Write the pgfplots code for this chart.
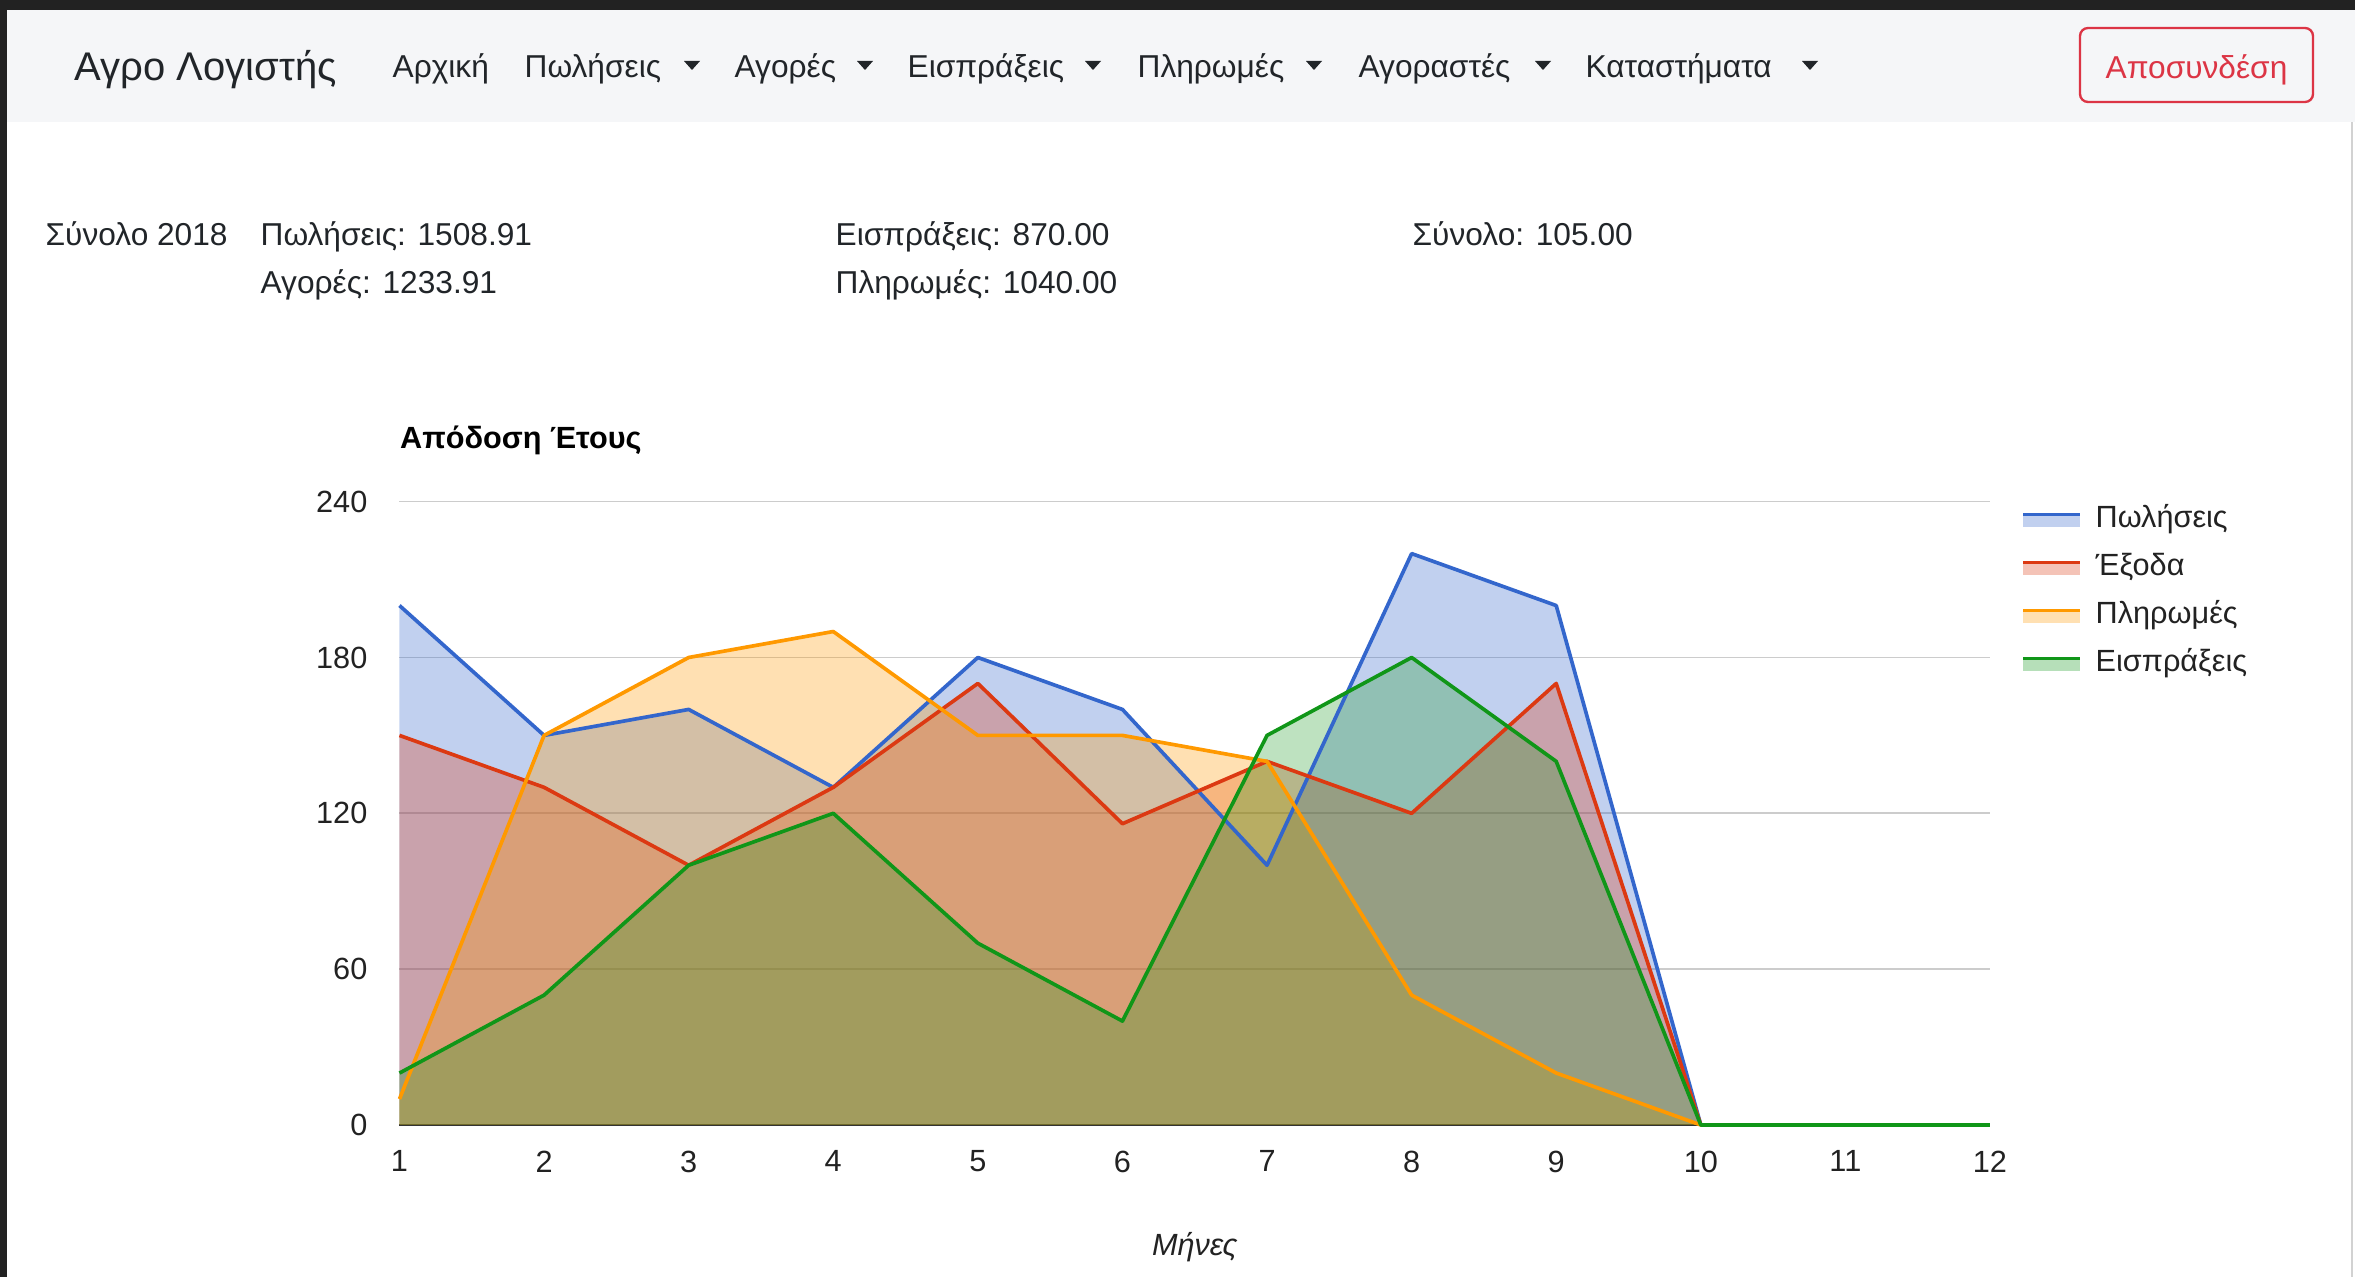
\documentclass[border=0pt]{standalone}
\usepackage{fontspec}
\setmainfont{Liberation Sans}
\usepackage{pgfplots}
\usepackage{pgfplotstable}
\pgfplotsset{compat=1.18}
\definecolor{gblue}{HTML}{3366CC}
\definecolor{gred}{HTML}{DC3912}
\definecolor{gorange}{HTML}{FF9900}
\definecolor{ggreen}{HTML}{109618}
\definecolor{navbg}{HTML}{F5F6F8}
\definecolor{btnred}{HTML}{DC3545}
\definecolor{txt}{HTML}{212529}
\definecolor{darkbar}{HTML}{222222}
\definecolor{gridc}{HTML}{CCCCCC}
\definecolor{base}{HTML}{333333}

\pgfplotstableread{
m sales exp pay rec
1 200 150 10 20
2 150 130 150 50
3 160 100 180 100
4 130 130 190 120
5 180 170 150 70
6 160 116 150 40
7 100 140 140 150
8 220 120 50 180
9 200 170 20 140
10 0 0 0 0
11 0 0 0 0
12 0 0 0 0
}\datatable

\newcommand{\navfont}{\fontsize{9.5}{11}\selectfont}
\newcommand{\chfont}{\fontsize{9.2}{11}\selectfont}

\begin{document}
\begin{tikzpicture}
\begin{scope}[x=0.3pt,y=-0.3pt]
\useasboundingbox (0,0) rectangle (2355,1277);
\fill[white] (0,0) rectangle (2355,1277);
\fill[navbg] (0,10) rectangle (2355,122);
\fill[darkbar] (0,0) rectangle (2355,10.5);
\fill[darkbar] (0,0) rectangle (7.5,1277);
\draw[gray!35, line width=0.6pt] (2352,122) -- (2352,1277);
% navbar
\node[anchor=base west, inner sep=0pt, text=txt, font=\fontsize{12}{14}\selectfont] at (74,81) {Αγρο Λογιστής};
\begin{scope}[every node/.style={anchor=base west, inner sep=0pt, text=txt, font=\navfont}]
\node at (392,78) {Αρχική};
\node at (524,78) {Πωλήσεις};
\node at (734,78) {Αγορές};
\node at (907,78) {Εισπράξεις};
\node at (1137,78) {Πληρωμές};
\node at (1358,78) {Αγοραστές};
\node at (1585,78) {Καταστήματα};
\end{scope}
\foreach \cx in {692,865,1093,1314,1543,1810}{
  \fill[txt] (\cx-8,61) -- (\cx+8,61) -- (\cx,70) -- cycle;
}
\draw[btnred, line width=0.7pt, rounded corners=2.4pt] (2080,28) rectangle (2313,102);
\node[anchor=base, inner sep=0pt, text=btnred, font=\navfont] at (2196.5,78.5) {Αποσυνδέση};
% summary
\begin{scope}[every node/.style={anchor=base west, inner sep=0pt, text=txt, font=\navfont}]
\node at (45,246) {Σύνολο 2018};
\node at (260,246) {Πωλήσεις: 1508.91};
\node at (260,294) {Αγορές: 1233.91};
\node at (835,246) {Εισπράξεις: 870.00};
\node at (835,294) {Πληρωμές: 1040.00};
\node at (1412,246) {Σύνολο: 105.00};
\end{scope}
% legend
\foreach \c/\yc/\lab in {gblue/518/Πωλήσεις, gred/566/Έξοδα, gorange/614/Πληρωμές, ggreen/662/Εισπράξεις}{
  \fill[\c, opacity=0.3] (2023,\yc-2) rectangle (2080,\yc+9);
  \draw[\c, line width=0.9pt] (2023,\yc-3) -- (2080,\yc-3);
  \node[anchor=base west, inner sep=0pt, text=darkbar, font=\chfont] at (2095,\yc+10) {\lab};
}
\end{scope}
\begin{axis}[
  at={(119.85pt,-337.5pt)}, anchor=south west,
  scale only axis, width=477.15pt, height=187pt,
  xmin=1, xmax=12, ymin=0, ymax=240,
  xtick={1,...,12}, ytick={0,60,...,240},
  axis line style={draw=none},
  major tick style={draw=none},
  ymajorgrids, major grid style={gridc, line width=0.5pt},
  clip=false,
  /pgf/number format/assume math mode=true,
  tick label style={font=\chfont, text=darkbar},
  yticklabel style={anchor=east, inner sep=0pt, xshift=-9.45pt},
  xticklabel style={anchor=north, inner sep=0pt, yshift=-7.5pt},
  title={\textbf{Απόδοση Έτους}},
  title style={at={(axis description cs:0,1)}, anchor=base west, inner sep=0pt, yshift=9.9pt, font=\chfont, text=black},
  xlabel={\textit{Μήνες}},
  xlabel style={at={(axis description cs:0.5,0)}, anchor=center, inner sep=0pt, yshift=-36.6pt, font=\chfont, text=darkbar},
]
\draw[base, line width=0.8pt] (axis cs:1,0) -- (axis cs:12,0);
\addplot[draw=none, fill=gblue, fill opacity=0.3] table[x=m, y=sales] {\datatable} \closedcycle;
\addplot[draw=none, fill=gred, fill opacity=0.3] table[x=m, y=exp] {\datatable} \closedcycle;
\addplot[draw=none, fill=gorange, fill opacity=0.3] table[x=m, y=pay] {\datatable} \closedcycle;
\addplot[draw=none, fill=ggreen, fill opacity=0.27] table[x=m, y=rec] {\datatable} \closedcycle;
\addplot[gblue, line width=1.1pt, line join=round] table[x=m, y=sales] {\datatable};
\addplot[gred, line width=1.1pt, line join=round] table[x=m, y=exp] {\datatable};
\addplot[gorange, line width=1.1pt, line join=round] table[x=m, y=pay] {\datatable};
\addplot[ggreen, line width=1.1pt, line join=round] table[x=m, y=rec] {\datatable};
\end{axis}
\end{tikzpicture}
\end{document}
